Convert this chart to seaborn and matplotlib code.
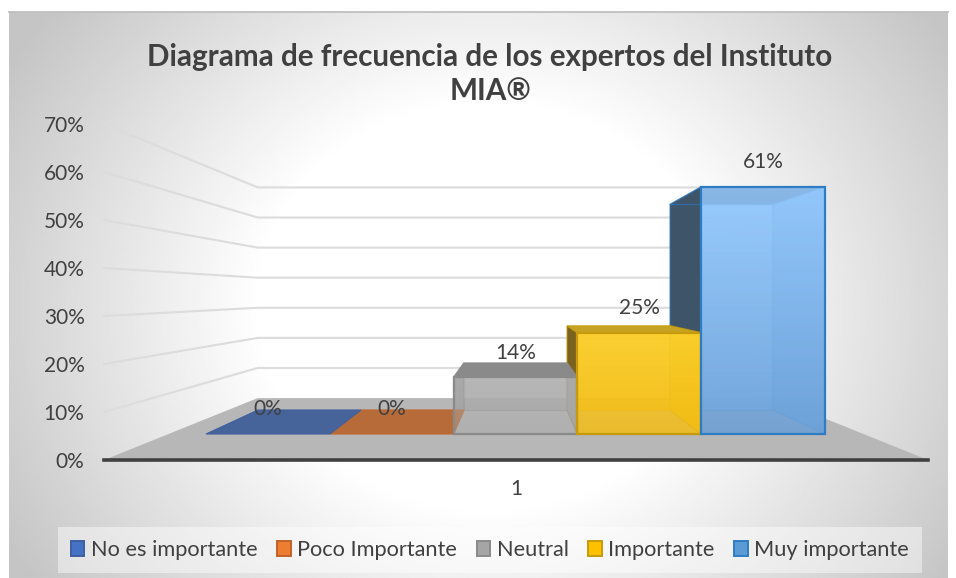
import matplotlib
matplotlib.use('Agg')
import matplotlib.pyplot as plt
import numpy as np
import pandas as pd
import seaborn as sns
from matplotlib.colors import LinearSegmentedColormap, to_rgba
from matplotlib.patches import Polygon

# data
categorias = ['No es importante', 'Poco Importante', 'Neutral', 'Importante', 'Muy importante']
valores = [0, 0, 14, 25, 61]
ticks_pct = [0, 10, 20, 30, 40, 50, 60, 70]
eje_x = ['1']
titulo = 'Diagrama de frecuencia de los expertos del Instituto\nMIA®'

# colours per series
base = ['#4472C4', '#ED7D31', '#A5A5A5', '#FFC000', '#5B9BD5']
borde = ['#3F5F9F', '#C0642A', '#8A8A8A', '#C79A0C', '#2E7CC4']
cara_sup = ['#97CBFF', '#97CBFF', '#B4B4B4', '#FFD22E', '#97CBFF']
cara_inf = ['#6A9FD6', '#6A9FD6', '#A8A8A8', '#F4BC14', '#6A9FD6']
lado_izq = ['#44639B', '#B66B38', '#A0A0A0', '#7A6220', '#3E5469']
lado_der = ['#44639B', '#B66B38', '#A3A3A0', '#E0B818', '#80B5EA']
techo = ['#46639A', '#B66B38', '#8A8A8A', '#C7A323', '#3E5469']
fondo = ['#46639A', '#B66B38', '#A8A8A8', '#E3B71E', '#8FC4F8']

W, H = 956, 578
sns.set_theme(style='white')
plt.rcParams['font.family'] = ['Lato', 'DejaVu Sans']
gris = '#404040'


def caja(l, t, r, b):
    return [l / W, 1 - b / H, (r - l) / W, (b - t) / H]


fig = plt.figure(figsize=(W / 100, H / 100), dpi=100)

# chart area background, radial grey to white
ax_bg = fig.add_axes(caja(9, 12, 948, 578))
yy, xx = np.mgrid[0:1:300j, 0:1:500j]
r = np.sqrt(((xx - 0.51) / 0.58) ** 2 + ((yy - 0.52) / 0.85) ** 2)
grad = np.clip((r - 0.42) / 0.6, 0, 1)
ax_bg.imshow(1 - 0.23 * grad, cmap='gray', vmin=0, vmax=1, aspect='auto')
ax_bg.set_xticks([])
ax_bg.set_yticks([])
for s in ax_bg.spines.values():
    s.set_visible(False)
ax_bg.spines['top'].set_visible(True)
ax_bg.spines['top'].set_color('#bdbdbd')

# walls and floor, with the big 0-70% scale
ax_wall = fig.add_axes(caja(104, 124, 928, 460), facecolor='none', zorder=1)
ax_wall.set_xlim(0, 1)
ax_wall.set_ylim(0, 70)
k_w, dy_w = 0.627, 12.9


def atras_w(x, v):
    return 0.5 + k_w * (x - 0.5), dy_w + k_w * v


ax_wall.add_patch(Polygon([(0, 0), (1, 0), atras_w(1, 0), atras_w(0, 0)], fc='#B7B7B7', ec='none', zorder=1))
for t in ticks_pct[1:]:
    bx, by = atras_w(0, t)
    ex, _ = atras_w(1, t)
    ax_wall.plot([0, bx, ex], [t, by, by], color='#DCDCDC', lw=1.5, zorder=1, clip_on=False)
ax_wall.set_yticks(ticks_pct)
ax_wall.set_yticklabels([f'{t}%' for t in ticks_pct])
ax_wall.set_xticks([0.5])
ax_wall.set_xticklabels(eje_x)
ax_wall.tick_params(axis='y', length=0, pad=14, labelsize=15, labelcolor=gris)
ax_wall.tick_params(axis='x', length=0, pad=14, labelsize=15, labelcolor=gris)
sns.despine(ax=ax_wall, left=True)
ax_wall.spines['bottom'].set_color(gris)
ax_wall.spines['bottom'].set_linewidth(2.6)

# bars, front plane
esc_x, esc_y = 123.8, 4.05
x0_px, y0_px = 206, 434
ax = fig.add_axes([0, 0, 1, 1], facecolor='none', zorder=2)
df = pd.DataFrame({'categoria': categorias, 'valor': valores})
sns.barplot(data=df, x='categoria', y='valor', hue='categoria', hue_order=categorias,
            palette=base, width=1, dodge=False, legend=False, ax=ax, zorder=6)
xlim = (-0.5 - x0_px / esc_x, -0.5 + (W - x0_px) / esc_x)
ylim = (-(H - y0_px) / esc_y, y0_px / esc_y)
ax.axis('off')

k, cx, dy = 0.832, 2.0, 24 / esc_y


def atras(x, v):
    return cx + k * (x - cx), dy + k * v


for i in range(len(categorias) - 1, -1, -1):
    bar = ax.containers[i][0]
    x1, x2, v = bar.get_x(), bar.get_x() + bar.get_width(), bar.get_height()
    z = 2 + (4 - i) * 0.1
    if v == 0:
        # flat bar, only the floor shows
        ax.add_patch(Polygon([(x1, 0), (x2, 0), atras(x2, 0), atras(x1, 0)], fc=fondo[i], ec=borde[i], lw=0.8, zorder=z))
        bar.set_visible(False)
        continue
    ec = borde[i]
    ax.add_patch(Polygon([atras(x1, 0), atras(x2, 0), atras(x2, v), atras(x1, v)],
                         fc=to_rgba(fondo[i], 0.8), ec=to_rgba(ec, 0.4), lw=1, zorder=z))
    ax.add_patch(Polygon([(x1, 0), atras(x1, 0), atras(x1, v), (x1, v)], fc=lado_izq[i], ec=to_rgba(ec, 0.6), lw=1, zorder=z + 0.01))
    ax.add_patch(Polygon([(x2, 0), atras(x2, 0), atras(x2, v), (x2, v)], fc=lado_der[i], ec=to_rgba(ec, 0.4), lw=1, zorder=z + 0.02))
    ax.add_patch(Polygon([(x1, v), (x2, v), atras(x2, v), atras(x1, v)], fc=techo[i], ec=to_rgba(ec, 0.6), lw=1, zorder=z + 0.03))
    # front face gradient
    cmap = LinearSegmentedColormap.from_list('f', [cara_inf[i], cara_sup[i]])
    a = 0.45 if i == 2 else 0.85
    ax.imshow(np.linspace(1, 0, 64).reshape(-1, 1), cmap=cmap, extent=(x1, x2, 0, v), aspect='auto', alpha=a, zorder=5)
    bar.set_facecolor('none')
    bar.set_edgecolor(ec)
    bar.set_linewidth(1.6)

ax.set_xlim(*xlim)
ax.set_ylim(*ylim)

for cont in ax.containers:
    ax.bar_label(cont, fmt='{:.0f}%', padding=10.5, fontsize=15, color=gris, zorder=8)

handles = []
for i, cont in enumerate(ax.containers):
    h = plt.Rectangle((0, 0), 1, 1, fc=base[i], ec=borde[i], lw=1.4, label=categorias[i])
    handles.append(h)
leg = ax.legend(handles=handles, loc='center', ncol=5, bbox_to_anchor=(490 / W, 1 - 550 / H),
                bbox_transform=fig.transFigure, fontsize=15.7, frameon=True, fancybox=False,
                facecolor='white', edgecolor='none', framealpha=0.45, labelcolor=gris,
                handlelength=0.62, handleheight=0.72, handletextpad=0.3, columnspacing=0.9,
                borderpad=0.6, borderaxespad=0)

fig.text(490 / W, 1 - 57 / H, titulo.split('\n')[0], ha='center', va='center', fontsize=21.3, fontweight='bold', color=gris, zorder=9)
fig.text(490 / W, 1 - 91 / H, titulo.split('\n')[1], ha='center', va='center', fontsize=21.3, fontweight='bold', color=gris, zorder=9)

fig.savefig('out.png', dpi=100)
